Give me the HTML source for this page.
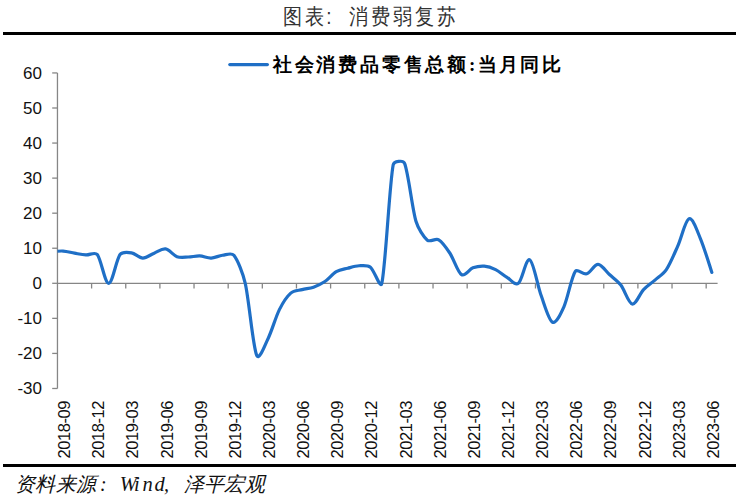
<!DOCTYPE html>
<html><head><meta charset="utf-8">
<style>
html,body{margin:0;padding:0;background:#fff;}
body{width:740px;height:496px;position:relative;overflow:hidden;font-family:"Liberation Sans",sans-serif;}
.rule{position:absolute;left:3px;width:733px;height:3px;background:#000;}
.title{position:absolute;left:281.5px;top:4.6px;height:24px;line-height:24px;font-family:"Liberation Serif",serif;font-size:19px;font-weight:300;color:#333;white-space:nowrap;transform:scaleY(1.15);transform-origin:50% 50%;}
.c{display:inline-block;text-align:center;}
.legend{position:absolute;left:271.5px;top:54px;height:22px;line-height:22px;font-family:"Liberation Serif",serif;font-weight:bold;font-size:19px;color:#000;white-space:nowrap;}
.src{position:absolute;left:0;top:472.6px;width:300px;height:22px;font-family:"Liberation Serif",serif;font-size:20px;font-weight:300;color:#111;font-style:italic;white-space:nowrap;}
.src span{position:absolute;top:0;height:22px;line-height:22px;}
.yl{position:absolute;right:698px;height:18px;line-height:18px;font-size:17px;color:#111;text-align:right;}
.xl{position:absolute;top:400px;width:0;height:0;}
.xl span{}
svg{position:absolute;left:0;top:0;}
</style></head><body>
<div class="title"><span class="c" style="width:22px">图</span><span class="c" style="width:22px">表</span><span class="c" style="width:22px;text-align:left;font-family:Liberation Sans;padding-left:0.8px;box-sizing:border-box">:</span><span class="c" style="width:22px">消</span><span class="c" style="width:22px">费</span><span class="c" style="width:22px">弱</span><span class="c" style="width:22px">复</span><span class="c" style="width:22px">苏</span></div>
<div class="rule" style="top:32px"></div>
<div class="rule" style="top:464px"></div>
<div class="legend"><span class="c" style="width:21.8px">社</span><span class="c" style="width:21.8px">会</span><span class="c" style="width:21.8px">消</span><span class="c" style="width:21.8px">费</span><span class="c" style="width:21.8px">品</span><span class="c" style="width:21.8px">零</span><span class="c" style="width:21.8px">售</span><span class="c" style="width:21.8px">总</span><span class="c" style="width:21.8px">额</span><span class="c" style="width:9px">:</span><span class="c" style="width:21.3px">当</span><span class="c" style="width:21.3px">月</span><span class="c" style="width:21.3px">同</span><span class="c" style="width:21.3px">比</span></div>
<div class="src"><span style="left:15.0px;width:20.3px;text-align:center">资</span><span style="left:35.3px;width:20.3px;text-align:center">料</span><span style="left:55.6px;width:20.3px;text-align:center">来</span><span style="left:75.9px;width:20.3px;text-align:center">源</span><span style="left:100px">:</span><span style="left:119.8px;width:11px;text-align:center;font-size:20.5px">W</span><span style="left:131.3px;width:11px;text-align:center;font-size:20.5px">i</span><span style="left:142.0px;width:11px;text-align:center;font-size:20.5px">n</span><span style="left:154.0px;width:11px;text-align:center;font-size:20.5px">d</span><span style="left:164px">,</span><span style="left:183.5px;width:20.3px;text-align:center">泽</span><span style="left:203.8px;width:20.3px;text-align:center">平</span><span style="left:224.1px;width:20.3px;text-align:center">宏</span><span style="left:244.4px;width:20.3px;text-align:center">观</span></div>
<div class="yl" style="top:64.64px">60</div><div class="yl" style="top:99.70px">50</div><div class="yl" style="top:134.76px">40</div><div class="yl" style="top:169.82px">30</div><div class="yl" style="top:204.88px">20</div><div class="yl" style="top:239.94px">10</div><div class="yl" style="top:275.00px">0</div><div class="yl" style="top:310.06px">-10</div><div class="yl" style="top:345.12px">-20</div><div class="yl" style="top:380.18px">-30</div>
<svg width="740" height="496" viewBox="0 0 740 496">
<defs><clipPath id="pa"><rect x="57.46" y="40" width="670" height="400"/></clipPath></defs>
<g stroke="#868686" stroke-width="1.3" fill="none">
<line x1="57.46" y1="72.94" x2="57.46" y2="388.48"/>
<line x1="57.46" y1="283.30" x2="717.6" y2="283.30"/>
<line x1="52.2" y1="72.94" x2="57.46" y2="72.94"/><line x1="52.2" y1="108.00" x2="57.46" y2="108.00"/><line x1="52.2" y1="143.06" x2="57.46" y2="143.06"/><line x1="52.2" y1="178.12" x2="57.46" y2="178.12"/><line x1="52.2" y1="213.18" x2="57.46" y2="213.18"/><line x1="52.2" y1="248.24" x2="57.46" y2="248.24"/><line x1="52.2" y1="283.30" x2="57.46" y2="283.30"/><line x1="52.2" y1="318.36" x2="57.46" y2="318.36"/><line x1="52.2" y1="353.42" x2="57.46" y2="353.42"/><line x1="52.2" y1="388.48" x2="57.46" y2="388.48"/><line x1="91.60" y1="283.30" x2="91.60" y2="288.50"/><line x1="125.75" y1="283.30" x2="125.75" y2="288.50"/><line x1="159.89" y1="283.30" x2="159.89" y2="288.50"/><line x1="194.03" y1="283.30" x2="194.03" y2="288.50"/><line x1="228.18" y1="283.30" x2="228.18" y2="288.50"/><line x1="262.32" y1="283.30" x2="262.32" y2="288.50"/><line x1="296.46" y1="283.30" x2="296.46" y2="288.50"/><line x1="330.60" y1="283.30" x2="330.60" y2="288.50"/><line x1="364.75" y1="283.30" x2="364.75" y2="288.50"/><line x1="398.89" y1="283.30" x2="398.89" y2="288.50"/><line x1="433.03" y1="283.30" x2="433.03" y2="288.50"/><line x1="467.18" y1="283.30" x2="467.18" y2="288.50"/><line x1="501.32" y1="283.30" x2="501.32" y2="288.50"/><line x1="535.46" y1="283.30" x2="535.46" y2="288.50"/><line x1="569.61" y1="283.30" x2="569.61" y2="288.50"/><line x1="603.75" y1="283.30" x2="603.75" y2="288.50"/><line x1="637.89" y1="283.30" x2="637.89" y2="288.50"/><line x1="672.03" y1="283.30" x2="672.03" y2="288.50"/><line x1="706.18" y1="283.30" x2="706.18" y2="288.50"/>
</g>
<line x1="229.8" y1="64.6" x2="267.4" y2="64.6" stroke="#1f6fc6" stroke-width="3.2" stroke-linecap="round"/>
<path clip-path="url(#pa)" d="M51.77,251.75 C53.67,251.63 59.36,250.81 63.15,251.04 C66.94,251.28 70.74,252.51 74.53,253.15 C78.32,253.79 82.12,254.67 85.91,254.90 C89.70,255.13 94.92,251.59 97.29,254.55 C101.09,259.28 104.88,283.30 108.67,283.30 C112.47,283.30 116.26,259.63 120.06,254.55 C122.35,251.47 127.64,252.21 131.44,252.80 C135.23,253.38 139.02,258.00 142.82,258.06 C146.61,258.12 150.40,254.67 154.20,253.15 C157.95,251.64 161.79,248.36 165.58,248.94 C169.37,249.53 173.17,255.31 176.96,256.65 C180.54,257.92 184.55,257.12 188.34,257.00 C192.14,256.89 195.93,255.78 199.72,255.95 C203.52,256.13 207.31,258.17 211.10,258.06 C214.90,257.94 218.69,255.72 222.48,255.25 C226.25,254.79 231.47,252.31 233.87,255.25 C237.66,259.93 243.01,273.46 245.25,283.30 C249.04,299.95 252.83,345.94 256.63,355.17 C259.16,361.35 265.03,344.67 268.01,338.69 C271.80,331.10 275.60,317.19 279.39,309.60 C282.37,303.62 286.98,296.45 290.77,293.12 C293.75,290.50 298.36,290.60 302.15,289.61 C305.91,288.63 309.87,288.45 313.53,287.16 C317.33,285.81 321.41,283.92 324.91,281.55 C328.71,278.98 332.50,273.95 336.29,271.73 C339.72,269.72 343.88,269.22 347.68,268.22 C351.43,267.24 355.26,265.95 359.06,265.77 C362.85,265.59 367.41,264.84 370.44,267.17 C374.23,270.09 380.39,289.72 381.82,283.30 C385.61,266.24 389.41,184.78 393.20,164.80 C393.91,161.04 403.15,159.85 404.58,163.39 C408.37,172.80 412.17,208.45 415.96,221.24 C418.05,228.30 423.55,237.08 427.34,240.18 C430.28,242.58 435.45,237.91 438.72,239.83 C442.52,242.05 446.85,248.54 450.10,253.50 C453.90,259.28 457.69,272.14 461.49,274.54 C465.20,276.88 469.07,269.28 472.87,267.87 C476.47,266.54 480.45,265.83 484.25,266.12 C488.04,266.41 492.07,267.87 495.63,269.63 C499.42,271.50 503.22,275.06 507.01,277.34 C510.68,279.55 515.00,285.91 518.39,283.30 C522.18,280.38 525.98,257.76 529.77,259.81 C533.57,261.85 537.36,285.17 541.15,295.57 C544.46,304.64 548.74,320.35 552.53,322.22 C556.33,324.09 561.30,312.62 563.91,306.79 C567.71,298.32 571.50,276.87 575.30,271.38 C577.50,268.19 582.97,274.98 586.68,273.83 C590.47,272.67 594.26,264.25 598.06,264.37 C601.85,264.48 605.67,271.11 609.44,274.54 C613.23,277.98 617.66,280.97 620.82,285.05 C624.61,289.96 628.41,303.23 632.20,303.99 C635.99,304.75 639.79,293.58 643.58,289.61 C646.99,286.04 651.25,283.40 654.96,280.14 C658.76,276.81 663.47,273.92 666.34,269.63 C670.14,263.96 674.17,254.08 677.72,246.14 C681.52,237.66 685.31,220.02 689.11,218.79 C692.90,217.56 697.49,231.72 700.49,238.77 C704.28,247.71 709.97,266.82 711.87,272.43" fill="none" stroke="#1f6fc6" stroke-width="3.2" stroke-linejoin="round" stroke-linecap="round"/>
</svg>
<div style="position:absolute;left:63.15px;top:401px;width:60px;height:18px;line-height:18px;font-size:16.5px;letter-spacing:-0.45px;color:#111;transform-origin:0 0;transform:translate(-8px,0) rotate(-90deg) translate(-60px,0);text-align:right;white-space:nowrap">2018-09</div>
<div style="position:absolute;left:97.29px;top:401px;width:60px;height:18px;line-height:18px;font-size:16.5px;letter-spacing:-0.45px;color:#111;transform-origin:0 0;transform:translate(-8px,0) rotate(-90deg) translate(-60px,0);text-align:right;white-space:nowrap">2018-12</div>
<div style="position:absolute;left:131.44px;top:401px;width:60px;height:18px;line-height:18px;font-size:16.5px;letter-spacing:-0.45px;color:#111;transform-origin:0 0;transform:translate(-8px,0) rotate(-90deg) translate(-60px,0);text-align:right;white-space:nowrap">2019-03</div>
<div style="position:absolute;left:165.58px;top:401px;width:60px;height:18px;line-height:18px;font-size:16.5px;letter-spacing:-0.45px;color:#111;transform-origin:0 0;transform:translate(-8px,0) rotate(-90deg) translate(-60px,0);text-align:right;white-space:nowrap">2019-06</div>
<div style="position:absolute;left:199.72px;top:401px;width:60px;height:18px;line-height:18px;font-size:16.5px;letter-spacing:-0.45px;color:#111;transform-origin:0 0;transform:translate(-8px,0) rotate(-90deg) translate(-60px,0);text-align:right;white-space:nowrap">2019-09</div>
<div style="position:absolute;left:233.87px;top:401px;width:60px;height:18px;line-height:18px;font-size:16.5px;letter-spacing:-0.45px;color:#111;transform-origin:0 0;transform:translate(-8px,0) rotate(-90deg) translate(-60px,0);text-align:right;white-space:nowrap">2019-12</div>
<div style="position:absolute;left:268.01px;top:401px;width:60px;height:18px;line-height:18px;font-size:16.5px;letter-spacing:-0.45px;color:#111;transform-origin:0 0;transform:translate(-8px,0) rotate(-90deg) translate(-60px,0);text-align:right;white-space:nowrap">2020-03</div>
<div style="position:absolute;left:302.15px;top:401px;width:60px;height:18px;line-height:18px;font-size:16.5px;letter-spacing:-0.45px;color:#111;transform-origin:0 0;transform:translate(-8px,0) rotate(-90deg) translate(-60px,0);text-align:right;white-space:nowrap">2020-06</div>
<div style="position:absolute;left:336.29px;top:401px;width:60px;height:18px;line-height:18px;font-size:16.5px;letter-spacing:-0.45px;color:#111;transform-origin:0 0;transform:translate(-8px,0) rotate(-90deg) translate(-60px,0);text-align:right;white-space:nowrap">2020-09</div>
<div style="position:absolute;left:370.44px;top:401px;width:60px;height:18px;line-height:18px;font-size:16.5px;letter-spacing:-0.45px;color:#111;transform-origin:0 0;transform:translate(-8px,0) rotate(-90deg) translate(-60px,0);text-align:right;white-space:nowrap">2020-12</div>
<div style="position:absolute;left:404.58px;top:401px;width:60px;height:18px;line-height:18px;font-size:16.5px;letter-spacing:-0.45px;color:#111;transform-origin:0 0;transform:translate(-8px,0) rotate(-90deg) translate(-60px,0);text-align:right;white-space:nowrap">2021-03</div>
<div style="position:absolute;left:438.72px;top:401px;width:60px;height:18px;line-height:18px;font-size:16.5px;letter-spacing:-0.45px;color:#111;transform-origin:0 0;transform:translate(-8px,0) rotate(-90deg) translate(-60px,0);text-align:right;white-space:nowrap">2021-06</div>
<div style="position:absolute;left:472.87px;top:401px;width:60px;height:18px;line-height:18px;font-size:16.5px;letter-spacing:-0.45px;color:#111;transform-origin:0 0;transform:translate(-8px,0) rotate(-90deg) translate(-60px,0);text-align:right;white-space:nowrap">2021-09</div>
<div style="position:absolute;left:507.01px;top:401px;width:60px;height:18px;line-height:18px;font-size:16.5px;letter-spacing:-0.45px;color:#111;transform-origin:0 0;transform:translate(-8px,0) rotate(-90deg) translate(-60px,0);text-align:right;white-space:nowrap">2021-12</div>
<div style="position:absolute;left:541.15px;top:401px;width:60px;height:18px;line-height:18px;font-size:16.5px;letter-spacing:-0.45px;color:#111;transform-origin:0 0;transform:translate(-8px,0) rotate(-90deg) translate(-60px,0);text-align:right;white-space:nowrap">2022-03</div>
<div style="position:absolute;left:575.30px;top:401px;width:60px;height:18px;line-height:18px;font-size:16.5px;letter-spacing:-0.45px;color:#111;transform-origin:0 0;transform:translate(-8px,0) rotate(-90deg) translate(-60px,0);text-align:right;white-space:nowrap">2022-06</div>
<div style="position:absolute;left:609.44px;top:401px;width:60px;height:18px;line-height:18px;font-size:16.5px;letter-spacing:-0.45px;color:#111;transform-origin:0 0;transform:translate(-8px,0) rotate(-90deg) translate(-60px,0);text-align:right;white-space:nowrap">2022-09</div>
<div style="position:absolute;left:643.58px;top:401px;width:60px;height:18px;line-height:18px;font-size:16.5px;letter-spacing:-0.45px;color:#111;transform-origin:0 0;transform:translate(-8px,0) rotate(-90deg) translate(-60px,0);text-align:right;white-space:nowrap">2022-12</div>
<div style="position:absolute;left:677.72px;top:401px;width:60px;height:18px;line-height:18px;font-size:16.5px;letter-spacing:-0.45px;color:#111;transform-origin:0 0;transform:translate(-8px,0) rotate(-90deg) translate(-60px,0);text-align:right;white-space:nowrap">2023-03</div>
<div style="position:absolute;left:711.87px;top:401px;width:60px;height:18px;line-height:18px;font-size:16.5px;letter-spacing:-0.45px;color:#111;transform-origin:0 0;transform:translate(-8px,0) rotate(-90deg) translate(-60px,0);text-align:right;white-space:nowrap">2023-06</div>
</body></html>
